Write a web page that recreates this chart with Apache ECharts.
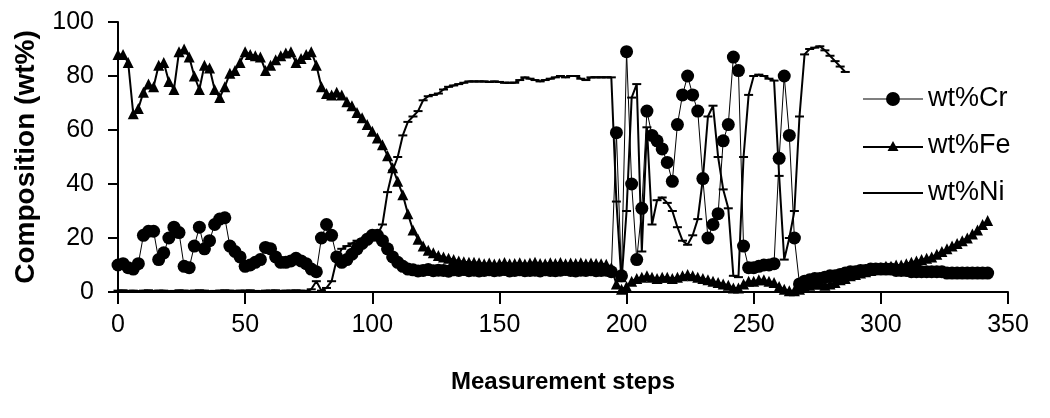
<!DOCTYPE html>
<html><head><meta charset="utf-8">
<script src="https://cdn.jsdelivr.net/npm/echarts@6/dist/echarts.min.js"></script>
<style>html,body{margin:0;padding:0;background:#fff}#c{width:1050px;height:418px}</style>
</head><body><div id="c"></div>
<script>
const steps = [
0,2,4,6,8,10,12,14,16,18,
20,22,24,26,28,30,32,34,36,38,
40,42,44,46,48,50,52,54,56,58,
60,62,64,66,68,70,72,74,76,78,
80,82,84,86,88,90,92,94,96,98,
100,102,104,106,108,110,112,114,116,118,
120,122,124,126,128,130,132,134,136,138,
140,142,144,146,148,150,152,154,156,158,
160,162,164,166,168,170,172,174,176,178,
180,182,184,186,188,190,192,194,196,198,
200,202,204,206,208,210,212,214,216,218,
220,222,224,226,228,230,232,234,236,238,
240,242,244,246,248,250,252,254,256,258,
260,262,264,266,268,270,272,274,276,278,
280,282,284,286,288,290,292,294,296,298,
300,302,304,306,308,310,312,314,316,318,
320,322,324,326,328,330,332,334,336,338,
340,342];

const crValues = [
10,10.5,9,8.5,10.5,21,22.5,22.5,12,14.5,
20,24,22,9.5,9,17,24,16,19,25,
27,27.5,17,15,13,9.5,10,11,12,16.5,
16,13,11,11,11.5,12.5,11.5,10.5,8.5,7.5,
20,25,21,13,11,12,14,16,18,19.5,
21,21,19,16,13,11,9.5,8.5,8.2,7.8,
8,8.3,7.9,8.1,8,7.7,8.2,8,8.3,7.9,
8.1,7.8,8,8.2,7.9,8.1,8.3,7.8,8,8.2,
7.9,8,8.1,7.8,8.2,8,7.9,8.1,8.3,8,
7.8,8.1,8,8.2,7.9,8,8.1,7.5,59,6,
89,40,12,31,67,58,56,53,48,41,
62,73,80,73,67,42,20,25,29,56,
62,87,82,17,9,9,9.5,10,10,10.5,
49.5,80,58,20,3,4,4.5,5,5,5.5,
6,6,6.5,7,7.5,7.5,8,8,8.5,8.5,
8.5,8.5,8.5,8,8,8,7.5,7.5,7.5,7.5,
7.5,7.5,7.5,7,7,7,7,7,7,7,
7,7];

const feValues = [
88,88,85,66,68,74,77,76,84,85,
78,75,89,90,87,80,75,84,83,75,
72,76,81,82,85,89,88,87.5,87,82,
84,86,87.5,88.5,89,85,86.5,88,89,84,
76,73.5,73,74,73,70.5,69,66.5,64.5,62,
59.5,57,54.5,50.5,46,41,36,29,23,19.5,
17,15.5,14.5,13.5,13,12.5,12,11.5,11.2,11,
11,10.8,10.5,10.7,10.4,10.6,10.9,10.5,10.6,10.8,
10.4,10.7,11,10.6,10.5,10.8,10.6,10.9,10.5,10.7,
10.6,10.8,10.5,10.7,10.6,10.5,10.3,9,3,1,
2,4,5,5.5,6,5.5,5,5.5,5.5,5,
5.5,6,6.5,6,5.5,5,4.5,4,3.5,3,
2.5,1.5,1.5,3,4,4,4.5,4.5,4,3.5,
2,1,0.5,0.5,1,2,2.5,3,3,2.5,
3,3.5,4.5,5,6,6.5,7,7.5,8,8.5,
9,9.5,9.5,10,10,10.5,11,11.5,12,12.5,
13,14,15,16,17,18,19,20,21.5,23,
25,26.5];

const niValues = [
0.5,0.6,0.4,0.5,0.3,0.5,0.6,0.4,0.5,0.5,
0.3,0.4,0.6,0.5,0.4,0.5,0.6,0.5,0.3,0.4,
0.5,0.6,0.5,0.4,0.5,0.5,0.6,0.4,0.3,0.5,
0.5,0.6,0.4,0.5,0.5,0.6,0.5,0.4,1,4,
0.5,1.5,4,12,16,17,18,19,19.5,20,
20,21,25,37,45,50,58,63,65,67,
71,72.5,73,73.5,75,76,76.5,77,77.5,78,
78,78,78,77.8,78,77.8,77.5,77.5,77.5,78.5,
79.5,79,78.5,78,78.5,79,79.5,80,79.5,80,
80,79,78.5,79.5,79.5,79.5,79.5,79.5,33.5,4,
30,72,77,15,61,25,34,35,33,30,
24,19,17.5,21,27,42,65,69,50,38,
31,6,5.5,50,73,80,80.5,80,79,78.3,
43,12,20,30,65,88,90,90.5,91,89.5,
87.5,85.5,83.5,81.5];

const seriesNames = ['wt%Cr', 'wt%Fe', 'wt%Ni'];
const xAxisTitle = 'Measurement steps';
const yAxisTitle = 'Composition (wt%)';

function pairs(vals) { return vals.map((v, i) => [steps[i], v]); }

const FONT = '"Liberation Sans", Arial, sans-serif';
const chart = echarts.init(document.getElementById('c'), null, { renderer: 'canvas' });
chart.setOption({
  animation: false,
  backgroundColor: '#fff',
  grid: { left: 118, right: 42, top: 22, bottom: 126, containLabel: false },
  xAxis: {
    type: 'value', min: 0, max: 350, interval: 50,
    name: xAxisTitle, nameLocation: 'middle', nameGap: 78,
    nameTextStyle: { fontFamily: FONT, fontWeight: 'bold', fontSize: 24, color: '#000' },
    axisLine: { onZero: false, lineStyle: { color: '#000', width: 2 } },
    axisTick: { length: 12, lineStyle: { color: '#000', width: 2 } },
    axisLabel: { margin: 21, fontSize: 25, color: '#000', fontFamily: FONT },
    splitLine: { show: false }
  },
  yAxis: {
    type: 'value', min: 0, max: 100, interval: 20,
    name: yAxisTitle, nameLocation: 'middle', nameGap: 78,
    nameTextStyle: { fontFamily: FONT, fontWeight: 'bold', fontSize: 28, color: '#000' },
    axisLine: { show: true, lineStyle: { color: '#000', width: 2 } },
    axisTick: { show: true, length: 10, lineStyle: { color: '#000', width: 2 } },
    axisLabel: { margin: 24, fontSize: 25, color: '#000', fontFamily: FONT },
    splitLine: { show: false }
  },
  legend: {
    orient: 'vertical', left: 858, top: 80,
    itemWidth: 60, itemHeight: 14, itemGap: 19,
    selectedMode: false,
    textStyle: { fontSize: 27, lineHeight: 28, color: '#000', fontFamily: FONT },
    data: [
      { name: seriesNames[0], icon: 'path://M0,6.5H60V7.5H0Z M30,0A7,7 0 1,1 29.99,0Z' },
      { name: seriesNames[1], icon: 'path://M0,6H60V8H0Z M30,1L35.5,11H24.5Z' },
      { name: seriesNames[2], icon: 'path://M0,0H60V2H0Z' }
    ]
  },
  series: [
    {
      name: seriesNames[0], type: 'line', data: pairs(crValues), clip: false,
      symbol: 'circle', symbolSize: 13, showAllSymbol: true,
      lineStyle: { color: '#000', width: 1 }, itemStyle: { color: '#000' }
    },
    {
      name: seriesNames[1], type: 'line', data: pairs(feValues), clip: false,
      symbol: 'triangle', symbolSize: 11, showAllSymbol: true,
      lineStyle: { color: '#000', width: 2 }, itemStyle: { color: '#000' }
    },
    {
      name: seriesNames[2], type: 'line', data: pairs(niValues), clip: false,
      symbol: 'path://M0,0H8V2H0Z', symbolSize: [9, 2], showAllSymbol: true,
      lineStyle: { color: '#000', width: 2 }, itemStyle: { color: '#000' }
    }
  ]
});
</script>
</body></html>
